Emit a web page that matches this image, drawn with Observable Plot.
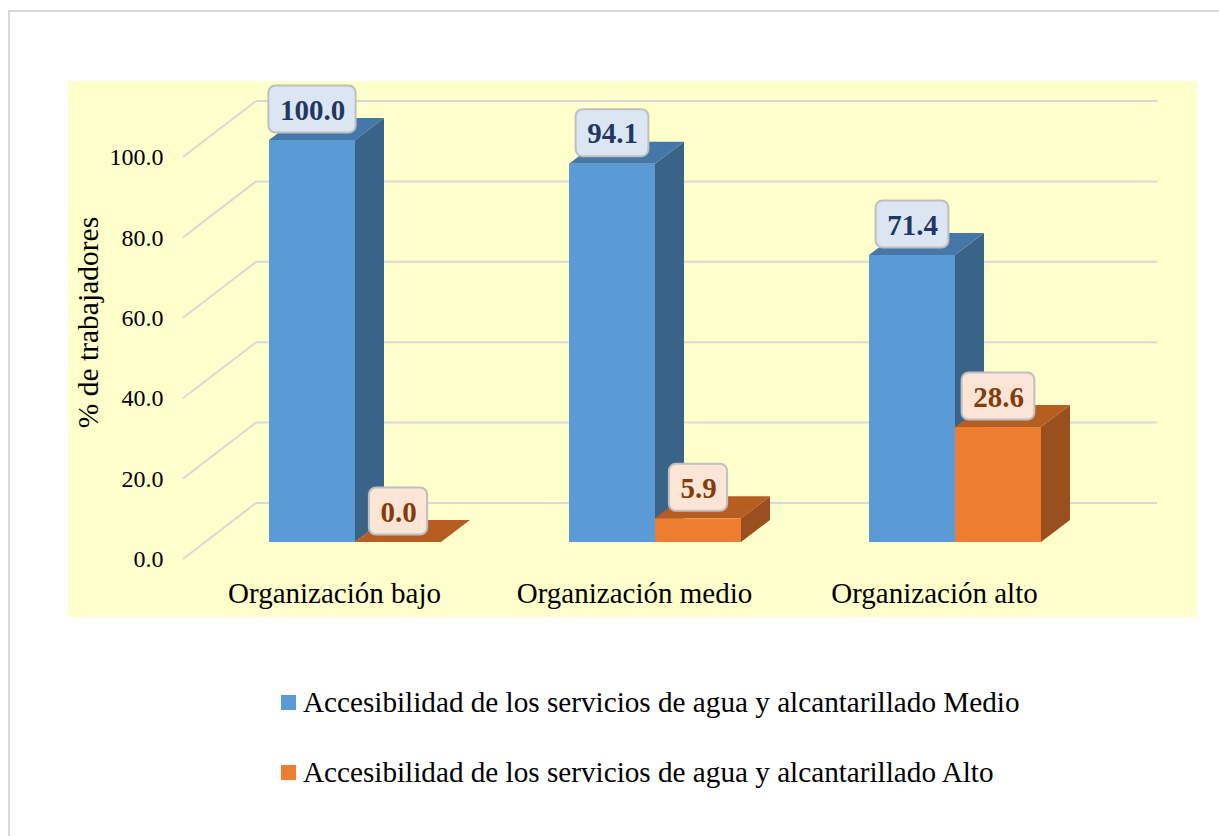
<!DOCTYPE html>
<html><head><meta charset="utf-8">
<script src="https://cdn.jsdelivr.net/npm/d3@7"></script>
<script src="https://cdn.jsdelivr.net/npm/@observablehq/plot@0.6"></script>
<style>
body{margin:0;background:#fff;font-family:"Liberation Serif","Times New Roman",serif;}
#frame{position:absolute;left:8px;top:10px;width:1300px;height:900px;border:2px solid #d9d9d9;box-sizing:border-box;}
#chart{position:absolute;left:68px;top:81px;width:1129px;height:536px;}
#chart text{font-family:"Liberation Serif","Times New Roman",serif;}
.lg{position:absolute;left:281px;height:40px;display:flex;align-items:center;font-size:29.2px;color:#000;white-space:nowrap;}
.sw{width:15px;height:15px;margin-right:7px;flex:none;}
</style></head><body>
<div id="frame"></div>
<div id="chart"></div>
<div id="legend"></div>
<script>
// ---- data ----
const categories = ["Organización bajo", "Organización medio", "Organización alto"];
const seriesNames = [
  "Accesibilidad de los servicios de agua y alcantarillado Medio",
  "Accesibilidad de los servicios de agua y alcantarillado Alto"
];
const valuesMedio = [100.0, 94.1, 71.4];
const valuesAlto = [0.0, 5.9, 28.6];
const yTicks = [0, 20, 40, 60, 80, 100];
const yLabel = "% de trabajadores";

// ---- styling ----
const SERIF = "'Liberation Serif', 'Times New Roman', serif";
const palette = [
  {front: "#5b9bd5", top: "#4677a9", side: "#3a6487", box: "#dce6f2", text: "#1f3864"},
  {front: "#ed7d31", top: "#b65d22", side: "#9a4f1e", box: "#fbe5d6", text: "#843c0c"}
];
const BW = 86, DDX = 29, DDY = -22;      // bar width and depth offset (px)
const LABEL_FS = 29;

const rows = categories.flatMap((c, i) => [
  {cat: c, s: 0, value: valuesMedio[i]},
  {cat: c, s: 1, value: valuesAlto[i]}
]);

function center(x, cat) { return x(cat) + x.bandwidth() / 2; }

function gridMark(index, scales) {
  const {x, y} = scales;
  const g = d3.create("svg:g").attr("stroke", "#d9d9d9").attr("stroke-width", 2).attr("fill", "none");
  const [r0, r1] = x.range();
  const wallL = r0 + 51, wallR = r1 + 52, frontX = r0 - 22;
  for (const v of yTicks) {
    const yb = y(v) - 39, yf = y(v) + 17;
    g.append("line").attr("x1", wallL).attr("x2", wallR).attr("y1", yb).attr("y2", yb);
    g.append("line").attr("x1", frontX).attr("x2", wallL).attr("y1", yf).attr("y2", yb);
  }
  return g.node();
}

function barsMark(index, scales) {
  const {x, y} = scales;
  const g = d3.create("svg:g");
  for (const s of [0, 1]) {
    for (const d of rows.filter(r => r.s === s)) {
      const c = center(x, d.cat);
      const x1 = s === 0 ? c - BW : c, x2 = x1 + BW;
      const y0 = y(0), yt = y(d.value);
      const col = palette[s];
      g.append("path").attr("fill", col.side)
        .attr("d", `M${x2},${y0}L${x2 + DDX},${y0 + DDY}L${x2 + DDX},${yt + DDY}L${x2},${yt}Z`);
      g.append("path").attr("fill", col.top)
        .attr("d", `M${x1},${yt}L${x2},${yt}L${x2 + DDX},${yt + DDY}L${x1 + DDX},${yt + DDY}Z`);
      if (y0 - yt > 0)
        g.append("rect").attr("fill", col.front).attr("x", x1).attr("y", yt).attr("width", BW).attr("height", y0 - yt);
    }
  }
  return g.node();
}

function boxesMark(index, scales) {
  const {x, y} = scales;
  const g = d3.create("svg:g");
  for (const d of rows) {
    const txt = d.value.toFixed(1);
    const tw = LABEL_FS * (0.5 * txt.replace(".", "").length + 0.25);
    const w = tw + 22, h = 47;
    const cx = center(x, d.cat) + (d.s === 0 ? -BW / 2 : BW / 2);
    const cy = y(d.value) - 31;
    g.append("rect").attr("x", cx - w / 2).attr("y", cy - h / 2).attr("width", w).attr("height", h)
      .attr("rx", 7).attr("fill", palette[d.s].box).attr("stroke", "#bfbfbf").attr("stroke-width", 2);
  }
  return g.node();
}

const chart = Plot.plot({
  width: 1129,
  height: 536,
  margin: 0,
  style: {background: "#ffffcc", fontFamily: SERIF, overflow: "visible"},
  x: {type: "band", domain: categories, range: [137, 1037], padding: 0, axis: null},
  y: {type: "linear", domain: [0, 100], range: [461, 59], axis: null},
  marks: [
    gridMark,
    barsMark,
    boxesMark,
    Plot.text(rows.filter(r => r.s === 0), {x: "cat", y: "value", text: d => d.value.toFixed(1),
      dx: -BW / 2, dy: -30, fontSize: LABEL_FS, fontWeight: "bold", fontFamily: SERIF, fill: palette[0].text}),
    Plot.text(rows.filter(r => r.s === 1), {x: "cat", y: "value", text: d => d.value.toFixed(1),
      dx: BW / 2, dy: -30, fontSize: LABEL_FS, fontWeight: "bold", fontFamily: SERIF, fill: palette[1].text}),
    Plot.text(yTicks, {y: d => d, text: d => d.toFixed(1), frameAnchor: "left", textAnchor: "end",
      dx: 95, dy: 17, fontSize: 24, fontFamily: SERIF, fill: "#000"}),
    Plot.text(categories, {x: d => d, y: () => 0, text: d => d, dx: -21, dy: 51, fontSize: 29, fontFamily: SERIF, fill: "#000"}),
    Plot.text([yLabel], {text: d => d, frameAnchor: "left", textAnchor: "middle", dx: 20, dy: -27, rotate: -90,
      fontSize: 29.5, fontFamily: SERIF, fill: "#000"})
  ]
});
document.getElementById("chart").appendChild(chart);

// ---- legend ----
const legend = document.getElementById("legend");
seriesNames.forEach((name, i) => {
  const row = document.createElement("div");
  row.className = "lg";
  row.style.top = (682 + i * 70) + "px";
  const sw = document.createElement("span");
  sw.className = "sw";
  sw.style.background = palette[i].front;
  const t = document.createElement("span");
  t.textContent = name;
  row.appendChild(sw);
  row.appendChild(t);
  legend.appendChild(row);
});
</script>
</body></html>
